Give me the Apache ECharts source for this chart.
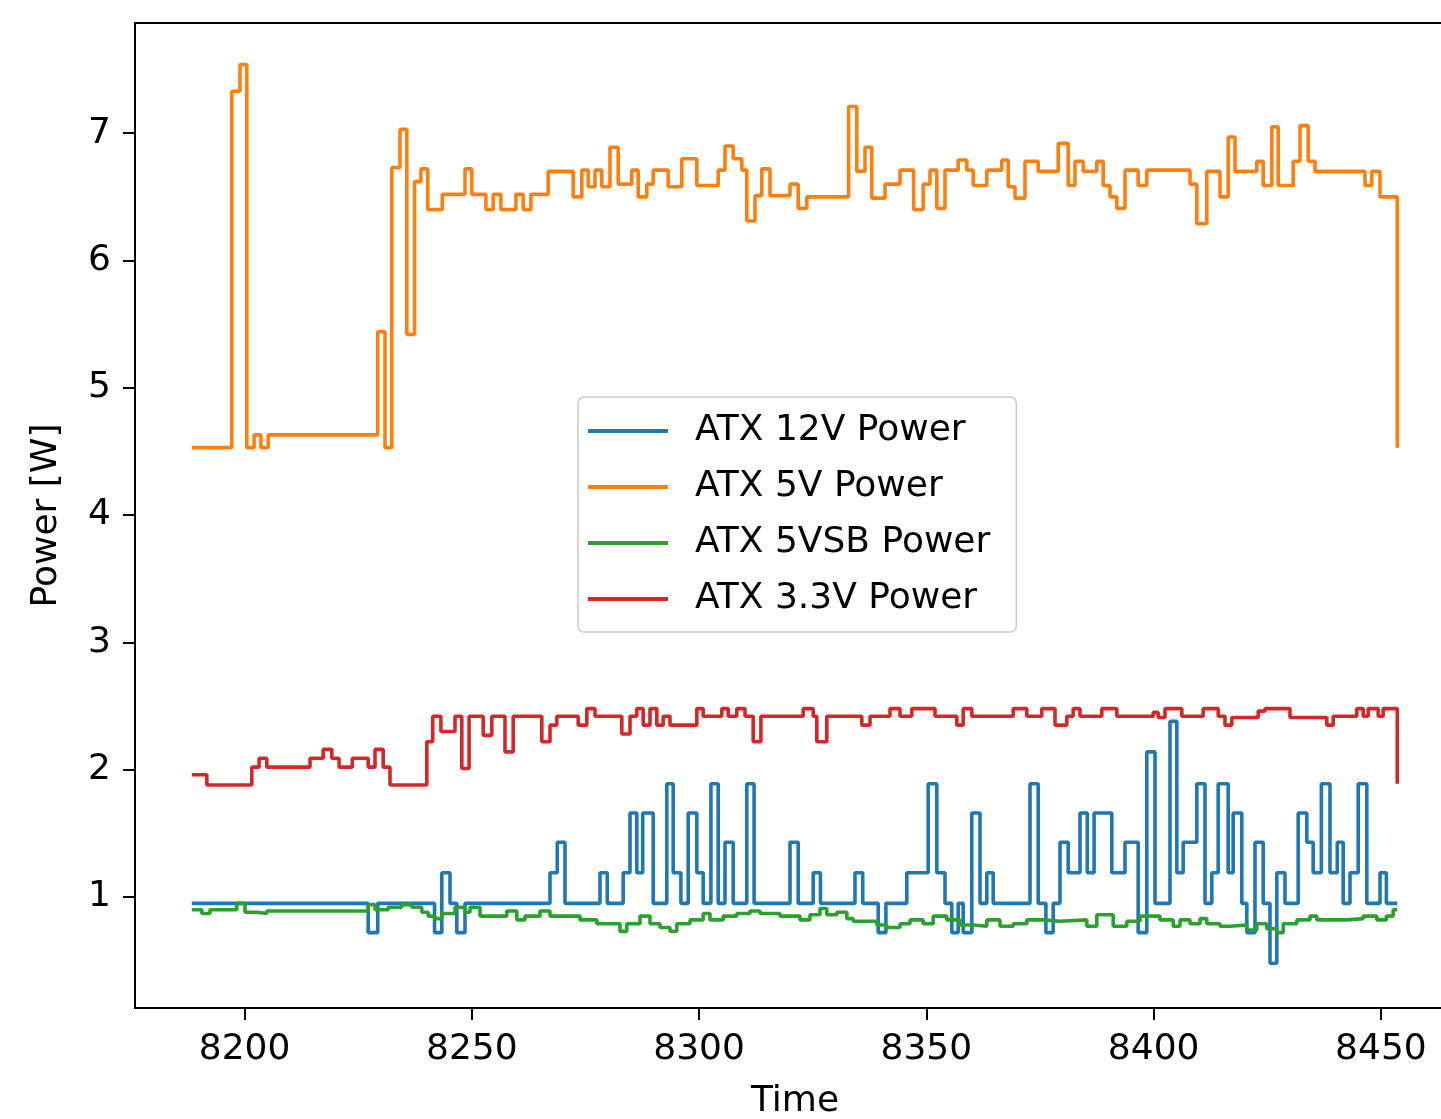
<!DOCTYPE html>
<html>
<head>
<meta charset="utf-8">
<script src="https://cdn.jsdelivr.net/npm/echarts@6/dist/echarts.min.js"></script>
<style>
html,body{margin:0;padding:0;background:#fff;}
#main{width:1441px;height:1119px;}
</style>
</head>
<body>
<div id="main"></div>
<script>
// ---- data (time of each step change, power value held from that time) ----
const seriesNames = ['ATX 12V Power', 'ATX 5V Power', 'ATX 5VSB Power', 'ATX 3.3V Power'];
const xTicks = [8200, 8250, 8300, 8350, 8400, 8450];
const yTicks = [1, 2, 3, 4, 5, 6, 7];

const t12 = [8188.4,8227.2,8229.3,8241.8,8243.4,8245.2,8246.7,8248.5,8267.2,8268.8,8270.5,8278.2,8279.8,8283.3,8284.8,8286.3,8287.6,8289.9,8292.9,8294.3,8296.0,8297.6,8299.5,8300.9,8302.6,8304.2,8305.7,8307.5,8310.5,8312.1,8320.0,8321.8,8325.1,8326.7,8334.3,8336.0,8339.4,8341.1,8345.7,8350.4,8352.3,8354.1,8355.6,8357.0,8358.1,8360.0,8361.8,8363.3,8364.7,8372.8,8374.6,8376.3,8377.9,8379.4,8381.2,8383.8,8385.4,8386.9,8390.8,8393.7,8396.6,8398.5,8400.3,8403.6,8405.1,8406.5,8409.5,8411.3,8412.8,8414.2,8416.4,8417.5,8419.4,8420.5,8422.3,8424.1,8425.6,8427.1,8428.9,8431.8,8433.7,8435.1,8436.9,8438.8,8440.4,8441.7,8443.2,8445.0,8446.9,8449.8,8451.2,8453.6];
const p12 = [0.95,0.72,0.95,0.72,1.19,0.95,0.72,0.95,1.19,1.43,0.95,1.19,0.95,1.19,1.66,1.19,1.66,0.95,1.89,1.19,0.95,1.66,1.19,0.95,1.89,0.95,1.43,0.95,1.89,0.95,1.43,0.95,1.19,0.95,1.19,0.95,0.72,0.95,1.19,1.89,1.19,0.95,0.72,0.95,0.72,1.66,0.95,1.19,0.95,1.89,0.95,0.72,0.95,1.43,1.19,1.66,1.19,1.66,1.19,1.43,0.72,2.14,0.95,2.38,1.19,1.43,1.89,0.95,1.19,1.89,1.19,1.66,0.95,0.72,1.43,0.95,0.48,1.19,0.95,1.66,1.43,1.19,1.89,1.19,1.43,0.95,1.19,1.89,0.95,1.19,0.95,0.95];

const t5 = [8188.4,8197.2,8199.0,8200.5,8202.1,8203.6,8205.2,8229.3,8230.9,8232.4,8234.2,8235.7,8237.4,8238.8,8240.3,8243.5,8248.5,8250.0,8253.1,8254.7,8256.4,8259.7,8261.3,8263.0,8266.8,8272.3,8274.2,8275.6,8277.1,8278.6,8280.4,8282.2,8285.2,8286.6,8288.5,8289.9,8293.2,8296.2,8299.5,8304.2,8305.7,8307.5,8309.4,8310.5,8312.3,8313.8,8315.6,8320.0,8321.8,8323.7,8332.9,8334.7,8336.5,8338.0,8340.9,8344.2,8347.2,8349.3,8350.8,8352.3,8354.1,8357.0,8358.9,8360.3,8363.3,8366.6,8368.0,8369.5,8371.7,8374.6,8379.0,8381.2,8382.7,8384.5,8387.5,8388.9,8390.4,8391.9,8393.7,8396.6,8398.5,8408.0,8409.5,8411.7,8414.6,8416.4,8417.9,8422.7,8424.1,8426.0,8427.4,8430.7,8432.2,8434.0,8435.5,8446.5,8448.0,8449.8,8453.6];
const p5 = [4.53,7.33,7.54,4.53,4.63,4.53,4.63,5.44,4.53,6.73,7.03,5.42,6.62,6.72,6.40,6.52,6.72,6.52,6.40,6.52,6.40,6.52,6.40,6.52,6.70,6.50,6.71,6.58,6.71,6.58,6.89,6.60,6.71,6.50,6.60,6.71,6.58,6.80,6.59,6.71,6.90,6.80,6.71,6.31,6.51,6.72,6.51,6.60,6.41,6.50,7.21,6.70,6.89,6.49,6.60,6.71,6.40,6.60,6.71,6.41,6.71,6.79,6.71,6.59,6.71,6.79,6.58,6.49,6.78,6.70,6.92,6.59,6.78,6.70,6.78,6.59,6.50,6.41,6.71,6.59,6.71,6.60,6.29,6.70,6.50,6.97,6.70,6.78,6.59,7.05,6.59,6.78,7.06,6.78,6.70,6.59,6.70,6.50,4.53];

const t5sb = [8188.4,8190.6,8192.4,8198.3,8200.1,8202.7,8204.9,8227.2,8228.7,8231.6,8234.6,8236.8,8239.0,8240.4,8241.9,8243.4,8246.3,8248.5,8249.6,8251.8,8257.7,8259.9,8261.7,8265.0,8267.2,8273.8,8277.5,8282.6,8284.1,8287.0,8289.2,8291.4,8293.6,8295.1,8298.0,8300.9,8302.4,8305.3,8308.3,8311.2,8313.4,8317.8,8322.2,8324.4,8326.6,8328.1,8330.3,8332.5,8333.9,8339.1,8341.3,8344.2,8346.4,8349.3,8351.5,8354.5,8357.4,8360.3,8363.3,8366.2,8369.1,8372.1,8375.7,8379.4,8385.3,8387.5,8391.1,8394.1,8397.0,8401.4,8404.3,8405.8,8408.0,8410.2,8411.7,8414.6,8416.8,8420.5,8422.7,8424.9,8427.1,8428.5,8431.5,8434.4,8435.9,8442.5,8446.1,8449.1,8451.2,8452.7,8453.6];
const p5sb = [0.90,0.87,0.90,0.95,0.88,0.87,0.89,0.94,0.90,0.92,0.94,0.92,0.88,0.85,0.83,0.87,0.92,0.88,0.92,0.85,0.89,0.82,0.85,0.89,0.85,0.82,0.79,0.73,0.79,0.85,0.79,0.76,0.73,0.79,0.82,0.87,0.82,0.85,0.87,0.89,0.87,0.85,0.82,0.86,0.91,0.86,0.88,0.83,0.81,0.78,0.76,0.79,0.82,0.79,0.85,0.82,0.78,0.77,0.82,0.77,0.79,0.82,0.81,0.82,0.77,0.86,0.77,0.81,0.85,0.82,0.77,0.82,0.79,0.83,0.79,0.77,0.78,0.74,0.79,0.75,0.72,0.79,0.82,0.85,0.82,0.83,0.85,0.82,0.85,0.90,0.90];

const t33 = [8188.4,8191.7,8201.6,8203.2,8204.9,8214.4,8217.3,8219.2,8220.8,8223.7,8227.2,8228.7,8230.5,8232.0,8240.1,8241.4,8243.2,8246.3,8247.8,8249.4,8252.5,8254.4,8257.3,8259.1,8265.4,8267.2,8268.7,8273.4,8275.3,8277.1,8283.0,8284.8,8286.3,8287.7,8289.2,8290.7,8292.1,8293.6,8299.5,8300.9,8305.0,8306.4,8308.3,8310.1,8311.9,8313.6,8322.9,8325.1,8325.9,8328.1,8335.8,8337.6,8342.0,8344.2,8346.8,8351.9,8356.7,8358.1,8360.0,8369.1,8372.1,8375.4,8378.3,8380.9,8382.3,8383.8,8388.6,8391.9,8399.9,8401.0,8402.5,8406.2,8410.9,8414.2,8415.7,8417.2,8423.0,8424.5,8430.0,8438.1,8439.5,8444.7,8446.1,8447.2,8449.4,8450.5,8453.6];
const p33 = [1.96,1.88,2.02,2.09,2.02,2.09,2.16,2.09,2.02,2.09,2.02,2.16,2.02,1.88,2.22,2.42,2.30,2.42,2.01,2.42,2.27,2.42,2.14,2.42,2.22,2.35,2.42,2.35,2.48,2.42,2.28,2.42,2.48,2.35,2.48,2.35,2.42,2.35,2.48,2.42,2.48,2.42,2.48,2.42,2.22,2.42,2.48,2.42,2.22,2.42,2.35,2.42,2.48,2.42,2.48,2.42,2.35,2.48,2.42,2.48,2.42,2.48,2.35,2.42,2.48,2.42,2.48,2.42,2.45,2.41,2.48,2.42,2.48,2.42,2.35,2.41,2.46,2.48,2.41,2.35,2.42,2.48,2.42,2.48,2.42,2.48,1.89];

const colors = ['#1f77b4', '#ff7f0e', '#2ca02c', '#d62728'];
const times = [t12, t5, t5sb, t33];
const values = [p12, p5, p5sb, p33];

const FONT = 'DejaVu Sans';
const FS = 36;
const chart = echarts.init(document.getElementById('main'), null, {renderer: 'canvas'});

const series = seriesNames.map((name, i) => ({
  name: name,
  type: 'line',
  step: 'end',
  showSymbol: false,
  symbol: 'none',
  data: times[i].map((t, k) => [t, values[i][k]]),
  lineStyle: {color: colors[i], width: 3.6},
  itemStyle: {color: colors[i]},
  emphasis: {disabled: true},
  animation: false
}));

chart.setOption({
  animation: false,
  backgroundColor: '#ffffff',
  textStyle: {fontFamily: FONT},
  grid: {
    left: 135, top: 23, width: 1320, height: 985,
    outerBoundsMode: 'none',
    containLabel: false,
    show: true, borderColor: '#000', borderWidth: 2, backgroundColor: 'transparent'
  },
  xAxis: {
    type: 'value',
    min: 8175.9, max: 8466.3,
    name: 'Time',
    nameLocation: 'middle',
    nameGap: 76,
    nameTextStyle: {fontSize: FS, color: '#000', fontFamily: FONT},
    axisLine: {show: true, lineStyle: {color: '#000', width: 2}},
    axisTick: {show: true, length: 12, lineStyle: {color: '#000', width: 2}, customValues: xTicks},
    axisLabel: {fontSize: FS, color: '#000', margin: 24, fontFamily: FONT, customValues: xTicks, formatter: v => String(v)},
    splitLine: {show: false}
  },
  yAxis: {
    type: 'value',
    min: 0.128, max: 7.866,
    name: 'Power [W]',
    nameLocation: 'middle',
    nameGap: 70,
    nameTextStyle: {fontSize: FS, color: '#000', fontFamily: FONT},
    axisLine: {show: true, lineStyle: {color: '#000', width: 2}},
    axisTick: {show: true, length: 12, lineStyle: {color: '#000', width: 2}, customValues: yTicks},
    axisLabel: {fontSize: FS, color: '#000', margin: 24, fontFamily: FONT, customValues: yTicks, formatter: v => String(v)},
    splitLine: {show: false}
  },
  legend: {
    orient: 'vertical',
    left: 578, top: 397,
    data: seriesNames,
    icon: 'rect',
    itemWidth: 80, itemHeight: 4,
    itemGap: 16,
    padding: [14, 26, 13, 10],
    backgroundColor: 'rgba(255,255,255,0.8)',
    borderColor: '#cccccc', borderWidth: 1.5, borderRadius: 6,
    textStyle: {fontSize: FS, color: '#000', fontFamily: FONT, lineHeight: 40, padding: [0, 0, 0, 22]},
    selectedMode: false
  },
  series: series
});
</script>
</body>
</html>
